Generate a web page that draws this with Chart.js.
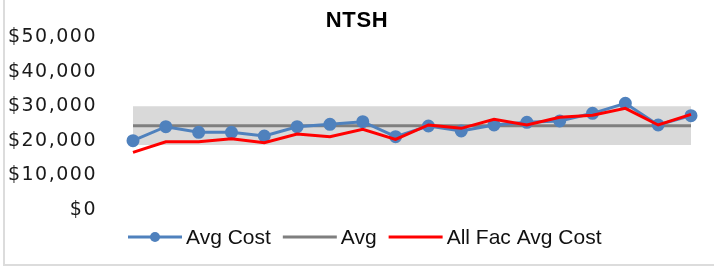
<!DOCTYPE html>
<html>
<head>
<meta charset="utf-8">
<script src="https://cdn.jsdelivr.net/npm/chart.js@4"></script>
<style>
  html, body { margin: 0; padding: 0; background: #fff; }
  #wrap { position: relative; width: 714px; height: 271px; overflow: hidden; }
  #frame { position: absolute; left: 3px; top: -4px; width: 730px; height: 270px;
           border-left: 2px solid #dcdcdc; border-bottom: 2px solid #dcdcdc; box-sizing: border-box; }
  canvas { position: absolute; left: 0; top: 0; }
</style>
</head>
<body>
<div id="wrap">
  <div id="frame"></div>
  <canvas id="c" width="714" height="271"></canvas>
</div>
<script>
// ---- data ----
const categories = ['1','2','3','4','5','6','7','8','9','10','11','12','13','14','15','16','17','18'];
const avgCost    = [20030, 24080, 22450, 22450, 21390, 24080, 24760, 25530, 21200, 24280, 22830, 24570, 25340, 25720, 27940, 30830, 24570, 27260];
const allFacAvg  = [16670, 19740, 19740, 20620, 19460, 21970, 21200, 23320, 20420, 24570, 23600, 26200, 24570, 26780, 27360, 29380, 24570, 27650];
const avgLine    = [24360, 24360, 24360, 24360, 24360, 24360, 24360, 24360, 24360, 24360, 24360, 24360, 24360, 24360, 24360, 24360, 24360, 24360];
const bandHigh   = [30000, 30000, 30000, 30000, 30000, 30000, 30000, 30000, 30000, 30000, 30000, 30000, 30000, 30000, 30000, 30000, 30000, 30000];
const bandLow    = [18800, 18800, 18800, 18800, 18800, 18800, 18800, 18800, 18800, 18800, 18800, 18800, 18800, 18800, 18800, 18800, 18800, 18800];
const yTicks     = [0, 10000, 20000, 30000, 40000, 50000];
const chartTitle = 'NTSH';

const spacingPlugin = {
  id: 'tickSpacing',
  beforeDraw(chart) { chart.ctx.letterSpacing = '1.5px'; },
  beforeDatasetsDraw(chart) { chart.ctx.letterSpacing = '0px'; }
};

const titleLegendPlugin = {
  id: 'titleLegend',
  afterDraw(chart) {
    const ctx = chart.ctx;
    ctx.save();
    ctx.letterSpacing = '0.6px';
    ctx.font = 'bold 22px "Liberation Sans", Arial, sans-serif';
    ctx.fillStyle = '#000';
    ctx.textAlign = 'center';
    ctx.textBaseline = 'middle';
    ctx.fillText(chartTitle, chart.width / 2, 21);
    ctx.letterSpacing = '0px';
    const items = chart.data.datasets.filter(d => d.inLegend);
    const y = 237;
    let x = chart.chartArea.left - 5;
    ctx.font = '21px "Liberation Sans", Arial, sans-serif';
    ctx.textAlign = 'left';
    items.forEach(d => {
      ctx.strokeStyle = d.borderColor;
      ctx.lineWidth = d.borderWidth;
      ctx.beginPath();
      ctx.moveTo(x, y);
      ctx.lineTo(x + 54, y);
      ctx.stroke();
      if (d.pointRadius > 0) {
        ctx.fillStyle = d.pointBackgroundColor;
        ctx.beginPath();
        ctx.arc(x + 27, y, d.pointRadius, 0, Math.PI * 2);
        ctx.fill();
      }
      x += 58;
      ctx.fillStyle = '#111';
      ctx.fillText(d.label, x, y + 1);
      x += ctx.measureText(d.label).width + 12;
    });
    ctx.restore();
  }
};

new Chart(document.getElementById('c'), {
  type: 'line',
  data: {
    labels: categories,
    datasets: [
      { label: 'Avg Cost', data: avgCost, inLegend: true, borderColor: '#4f81bd', backgroundColor: '#4f81bd',
        pointBackgroundColor: '#4f81bd', pointBorderColor: '#4f81bd', borderWidth: 3, pointRadius: 5, pointHoverRadius: 5, order: 1 },
      { label: 'Avg', data: avgLine, inLegend: true, borderColor: '#7f7f7f', borderWidth: 3, pointRadius: 0, order: 3 },
      { label: 'All Fac Avg Cost', data: allFacAvg, inLegend: true, borderColor: '#ff0000', borderWidth: 3, pointRadius: 0, order: 0 },
      { label: 'Band Low', data: bandLow, borderColor: 'rgba(0,0,0,0)', borderWidth: 0, pointRadius: 0, fill: false, order: 10 },
      { label: 'Band High', data: bandHigh, borderColor: 'rgba(0,0,0,0)', borderWidth: 0, pointRadius: 0,
        fill: { target: 3 }, backgroundColor: '#d9d9d9', order: 9 }
    ]
  },
  options: {
    responsive: false,
    animation: false,
    devicePixelRatio: 1,
    layout: { padding: { left: 0, right: 23, top: 37, bottom: 61 } },
    plugins: {
      legend: { display: false },
      tooltip: { enabled: false },
      title: { display: false }
    },
    scales: {
      x: { display: false, offset: false },
      y: {
        min: 0, max: 50000,
        afterFit(scale) { scale.width = 133; },
        afterBuildTicks(scale) { scale.ticks = yTicks.map(v => ({ value: v })); },
        grid: { display: false, drawTicks: false },
        border: { display: false },
        ticks: {
          padding: 36, color: '#1a1a1a',
          font: { family: '"DejaVu Sans", sans-serif', size: 19, lineHeight: 0.02 },
          callback: v => '$' + Number(v).toLocaleString('en-US')
        }
      }
    }
  },
  plugins: [spacingPlugin, titleLegendPlugin]
});
</script>
</body>
</html>
